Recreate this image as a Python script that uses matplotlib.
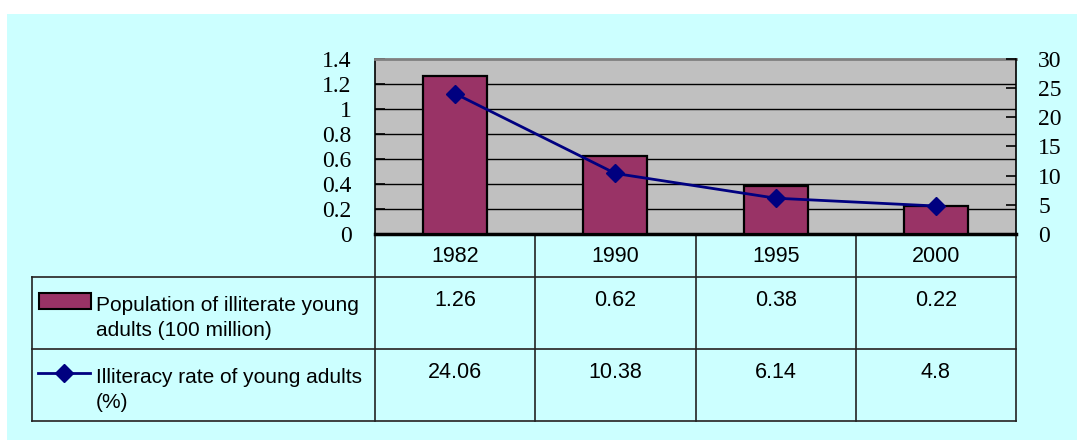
import matplotlib
matplotlib.use("Agg")
import matplotlib.pyplot as plt
from matplotlib.patches import Rectangle
from matplotlib.lines import Line2D

# ---- data ----
years = ["1982", "1990", "1995", "2000"]
population = [1.26, 0.62, 0.38, 0.22]          # 100 million
rate = [24.06, 10.38, 6.14, 4.8]                # %
pop_labels = ["1.26", "0.62", "0.38", "0.22"]
rate_labels = ["24.06", "10.38", "6.14", "4.8"]
left_ticks = [0, 0.2, 0.4, 0.6, 0.8, 1.0, 1.2, 1.4]
left_tick_labels = ["0", "0.2", "0.4", "0.6", "0.8", "1", "1.2", "1.4"]
right_ticks = [0, 5, 10, 15, 20, 25, 30]
series_names = ["Population of illiterate young\nadults (100 million)",
                "Illiteracy rate of young adults\n(%)"]

W, H = 1077, 440
BG = "#CCFFFF"
PLOT_BG = "#C0C0C0"
BAR_C = "#993366"
LINE_C = "#000080"

fig = plt.figure(figsize=(W / 100, H / 100), dpi=100, facecolor="white")

# overlay axes in pixel coordinates
ov = fig.add_axes([0, 0, 1, 1])
ov.set_xlim(0, W)
ov.set_ylim(H, 0)
ov.axis("off")
ov.add_patch(Rectangle((7, 14), W - 7, H - 14, facecolor=BG, edgecolor="none", zorder=0))

def px_axes(x0, y0, x1, y1):
    return [x0 / W, (H - y1) / H, (x1 - x0) / W, (y1 - y0) / H]

PL, PR, PT, PB = 375, 1016, 59, 234
ax = fig.add_axes(px_axes(PL, PT, PR, PB))
ax.set_facecolor(PLOT_BG)
x = list(range(len(years)))
ax.bar(x, population, width=0.4, color=BAR_C, edgecolor="black", linewidth=1.6, zorder=3)
ax.set_xlim(-0.5, len(years) - 0.5)
ax.set_ylim(0, 1.4)
ax.set_yticks(left_ticks)
ax.set_yticklabels(left_tick_labels, fontfamily="Liberation Serif", fontsize=17)
ax.set_xticks([])
for yv in left_ticks[1:-1]:
    ax.axhline(yv, color="black", linewidth=1.0, zorder=1)
ax.tick_params(axis="y", direction="in", length=7, width=1.2, pad=17, colors="black")
ax.spines["top"].set_color("#808080")
ax.spines["top"].set_linewidth(2)
ax.spines["bottom"].set_linewidth(2.5)
ax.spines["left"].set_linewidth(1.2)
ax.spines["right"].set_visible(False)

ax2 = ax.twinx()
ax2.plot(x, rate, color=LINE_C, linewidth=2, marker="D", markersize=9, zorder=4)
ax2.set_ylim(0, 30)
ax2.set_yticks(right_ticks)
ax2.set_yticklabels([str(v) for v in right_ticks], fontfamily="Liberation Serif", fontsize=17)
ax2.tick_params(axis="y", direction="in", length=7, width=1.2, pad=16)
ax2.spines["right"].set_linewidth(1.2)
for s in ["top", "bottom", "left"]:
    ax2.spines[s].set_visible(False)

# ---- data table ----
TL = 32
ROW = [234, 277, 349, 421]
col_w = (PR - PL) / len(years)
cols = [PL + i * col_w for i in range(len(years) + 1)]
lc = "#222222"
for yl in ROW[1:]:
    ov.add_line(Line2D([TL, PR], [yl, yl], color="#333333", linewidth=1.3, zorder=2))
for cx in cols:
    ov.add_line(Line2D([cx, cx], [ROW[0], ROW[3]], color=lc, linewidth=1.2, zorder=2))
ov.add_line(Line2D([TL, TL], [ROW[1], ROW[3]], color=lc, linewidth=1.2, zorder=2))

tf = dict(fontfamily="Liberation Sans", fontsize=15.5, color="black")
for i, yr in enumerate(years):
    cx = (cols[i] + cols[i + 1]) / 2
    ov.text(cx, 256, yr, ha="center", va="center", **tf)
    ov.text(cx, 300, pop_labels[i], ha="center", va="center", **tf)
    ov.text(cx, 372, rate_labels[i], ha="center", va="center", **tf)

# legend keys
lf = dict(fontfamily="Liberation Sans", fontsize=15, color="black")
ov.add_patch(Rectangle((39, 293), 52, 16, facecolor=BAR_C, edgecolor="black", linewidth=1.5, zorder=3))
ov.add_line(Line2D([38, 90], [373, 373], color=LINE_C, linewidth=2, zorder=3))
ov.add_line(Line2D([64], [373], color=LINE_C, marker="D", markersize=9, zorder=4))
ov.text(96, 318, series_names[0], ha="left", va="center", linespacing=1.45, **lf)
ov.text(96, 390, series_names[1], ha="left", va="center", linespacing=1.45, **lf)

fig.savefig("out.png", dpi=100, facecolor=fig.get_facecolor())
